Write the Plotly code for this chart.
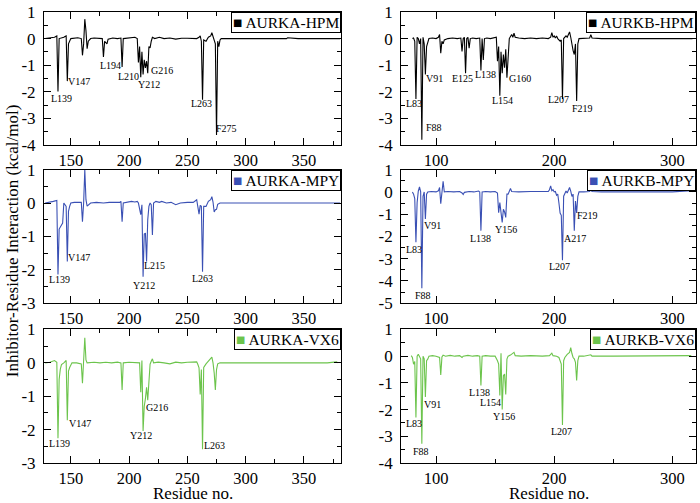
import plotly.graph_objects as go

# ---------------- data ----------------
aurka_hpm_res = [128, 132, 136, 138, 139, 140, 142, 144, 145, 146, 147, 148, 150, 153, 156, 159, 160, 161, 162, 163,
                 164, 165, 167, 170, 174, 177, 178, 179, 181, 182, 186, 190, 193, 194, 195, 198, 202, 205, 207, 208,
                 209, 210, 211, 212, 213, 214, 215, 216, 217, 218, 219, 220, 222, 226, 230, 235, 240, 245, 250, 255,
                 258, 260, 261, 262, 263, 264, 266, 268, 270, 271, 272, 273, 274, 275, 276, 277, 278, 279, 285, 295,
                 310, 320, 335, 336, 345, 360, 375, 381]
aurka_hpm_val = [0.0, 0.02, 0.05, 0.1, -1.99, 0.0, 0.02, 0.05, 0.08, 0.1, -1.6, -0.2, 0.0, 0.02, 0.03, 0.0, -0.63, -0.2, 0.73, 0.3,
                 -0.38, -0.1, 0.0, 0.02, 0.0, 0.0, -0.69, -0.1, -0.2, -0.02, 0.02, 0.0, 0.02, -1.07, 0.0, 0.02, 0.03, 0.05, 0.0, -0.9,
                 -0.3, -1.45, -0.5, -1.35, -0.8, -1.1, -0.85, -1.3, -0.3, -0.35, -0.1, 0.05, 0.0, 0.05, 0.0, 0.02, -0.02, 0.01, 0.01, 0.02,
                 0.0, 0.05, 0.1, -0.1, -2.3, -0.05, -0.1, 0.05, 0.1, 0.22, 0.05, -0.1, -0.2, -3.63, -0.1, -0.3, -0.05, 0.0, 0.0, 0.0,
                 0.0, 0.0, 0.0, 0.03, 0.0, 0.0, 0.0, 0.0]

aurkb_hpm_res = [80, 81, 82, 83, 84, 85, 86, 87, 88, 89, 90, 91, 92, 93, 94, 97, 100, 102, 103, 104,
                 105, 106, 107, 110, 114, 118, 121, 122, 123, 124, 125, 126, 127, 128, 129, 131, 134, 137, 138, 139,
                 140, 141, 143, 146, 149, 151, 152, 153, 154, 155, 156, 157, 158, 159, 160, 161, 162, 164, 165, 166,
                 167, 170, 175, 180, 185, 190, 195, 197, 198, 199, 200, 201, 202, 203, 205, 206, 207, 208, 209, 210,
                 211, 212, 213, 214, 215, 216, 217, 218, 219, 220, 221, 225, 230, 231, 232, 240, 260, 280, 300, 316, 317]
aurkb_hpm_val = [0.0, 0.02, -0.1, -2.27, 0.05, 0.0, -0.2, 0.0, -3.81, 0.05, -0.2, -1.35, -0.3, -0.15, 0.0, 0.02, 0.0, 0.05, 0.15, -0.55,
                 -0.1, -0.2, -0.05, 0.0, 0.02, 0.0, 0.02, -0.48, 0.0, 0.05, -1.3, 0.0, 0.05, -0.36, 0.0, 0.02, 0.0, 0.02, -1.2, 0.0,
                 -0.8, 0.0, 0.02, 0.0, 0.02, 0.05, -0.85, -0.3, -2.15, -0.5, -1.3, -0.6, -1.1, -0.4, -1.47, -0.4, 0.0, 0.15, 0.05, 0.2,
                 0.05, 0.02, 0.0, 0.02, 0.0, 0.02, 0.0, 0.05, 0.22, 0.05, 0.1, 0.02, 0.1, 0.0, -0.1, -0.05, -2.27, 0.0, 0.05, 0.1,
                 0.05, 0.15, 0.25, 0.05, -0.3, -0.45, -0.6, -0.2, -2.35, -0.2, 0.0, 0.0, 0.02, 0.15, 0.02, 0.0, 0.0, 0.0, 0.0, 0.02, 0.0]

aurka_mpy_res = [128, 132, 135, 138, 139, 140, 141, 142, 143, 144, 145, 146, 147, 148, 149, 150, 153, 156, 159, 160,
                 161, 162, 163, 164, 165, 167, 172, 178, 183, 188, 192, 193, 194, 195, 198, 202, 205, 207, 208, 209,
                 210, 211, 212, 213, 214, 215, 216, 217, 218, 219, 220, 221, 223, 226, 228, 232, 236, 240, 244, 250,
                 255, 258, 260, 261, 262, 263, 264, 266, 268, 270, 271, 272, 273, 274, 275, 276, 278, 290, 310, 311,
                 330, 350, 370, 381]
aurka_mpy_val = [0.0, 0.02, 0.05, 0.08, -2.14, -0.78, -0.72, -0.68, -0.6, 0.0, -0.05, -0.1, -1.75, -0.25, -0.1, 0.0, 0.02, 0.03, 0.02, -0.56,
                 0.0, 1.0, 0.1, -0.09, -0.05, 0.0, 0.02, 0.0, 0.02, 0.03, 0.02, 0.05, -0.56, 0.0, 0.02, 0.05, 0.03, 0.05, 0.0, -0.2,
                 -0.35, -0.05, -2.21, -0.93, -0.9, -1.75, -0.5, -0.1, 0.0, -0.05, -0.96, 0.0, 0.05, 0.02, 0.05, 0.0, 0.02, -0.05, 0.0, 0.02,
                 0.02, 0.1, -0.33, -0.07, -0.1, -2.06, -0.1, -0.1, 0.05, 0.1, 0.19, 0.03, -0.27, -0.2, -0.19, -0.04, 0.0, 0.0, 0.02, 0.0,
                 0.0, 0.0, 0.0, 0.0]

aurkb_mpy_res = [80, 81, 82, 83, 84, 85, 86, 87, 88, 89, 90, 91, 92, 93, 96, 100, 102, 103, 104, 105,
                 106, 107, 110, 115, 120, 122, 123, 124, 128, 132, 136, 137, 138, 139, 142, 146, 150, 152, 153, 154,
                 155, 156, 157, 158, 159, 160, 161, 162, 163, 164, 170, 180, 190, 195, 196, 197, 198, 199, 200, 201,
                 202, 203, 204, 205, 206, 207, 208, 209, 210, 211, 212, 213, 214, 215, 216, 217, 218, 219, 220, 221,
                 225, 230, 231, 232, 240, 260, 280, 300, 316, 317]
aurkb_mpy_val = [0.0, -0.1, -0.3, -2.26, -0.48, 0.04, 0.23, 0.0, -4.33, -0.2, 0.0, -1.22, -0.1, 0.0, 0.02, 0.0, 0.05, 0.2, -0.53, 0.19,
                 0.48, 0.0, 0.02, 0.0, 0.02, -0.05, -0.12, -0.02, 0.02, 0.0, 0.04, 0.0, -1.74, 0.0, 0.02, 0.0, 0.02, -0.05, -0.93, -0.48,
                 -0.9, -1.37, -0.78, -0.9, -1.15, -0.1, -0.1, 0.05, 0.15, 0.02, 0.0, 0.02, 0.0, 0.02, 0.1, 0.27, 0.05, 0.1, 0.0, 0.02,
                 -0.15, -0.1, -0.5, -0.95, -1.05, -3.07, -0.19, -0.1, 0.04, -0.05, 0.1, 0.2, 0.04, -0.2, -0.1, -1.74, -0.41, -0.95, -0.2, 0.0,
                 0.0, 0.02, 0.1, 0.02, 0.0, 0.0, 0.0, 0.0, 0.05, 0.0]

aurka_vx6_res = [128, 132, 136, 138, 139, 140, 141, 142, 144, 145, 146, 147, 148, 149, 150, 151, 155, 159, 160, 161,
                 162, 163, 164, 170, 175, 180, 185, 190, 193, 194, 195, 200, 205, 209, 210, 211, 212, 213, 214, 215,
                 216, 217, 218, 219, 220, 221, 225, 230, 235, 240, 245, 250, 255, 258, 259, 260, 261, 262, 263, 264,
                 266, 268, 269, 271, 272, 273, 274, 275, 276, 278, 290, 310, 311, 340, 370, 378, 379]
aurka_vx6_val = [0.0, 0.02, 0.07, 0.02, -2.26, -0.5, -0.19, -0.05, 0.0, 0.05, 0.07, -1.72, -0.25, -0.14, -0.05, 0.0, 0.0, -0.03, -0.61, 0.2,
                 0.75, 0.09, 0.0, 0.02, 0.0, 0.02, 0.0, 0.02, 0.0, -0.81, 0.0, 0.02, 0.0, 0.0, -0.88, 0.07, -2.04, -1.3, -1.07, -0.73,
                 -1.12, -0.5, -0.04, 0.05, 0.12, 0.0, 0.02, 0.0, -0.03, 0.02, 0.0, 0.02, 0.03, 0.03, -0.05, -0.15, -0.95, -0.2, -2.59, -0.14,
                 -0.03, 0.05, 0.1, 0.17, 0.0, -0.3, -0.81, -0.2, -0.03, 0.0, 0.0, 0.02, 0.0, 0.0, 0.0, 0.03, 0.0]

aurkb_vx6_res = [79, 80, 81, 82, 83, 84, 85, 86, 87, 88, 89, 90, 91, 92, 93, 94, 97, 100, 103, 104,
                 105, 106, 108, 112, 116, 120, 122, 123, 127, 131, 135, 137, 138, 139, 142, 146, 150, 152, 153, 154,
                 155, 156, 157, 158, 159, 160, 161, 163, 166, 167, 172, 180, 190, 196, 197, 198, 199, 202, 204, 205,
                 206, 207, 208, 209, 211, 213, 214, 215, 216, 217, 218, 219, 220, 221, 225, 231, 232, 250, 280, 300, 316]
aurkb_vx6_val = [0.02, -0.05, -0.3, -0.2, -2.3, 0.0, 0.07, 0.0, -0.1, -3.28, 0.0, -0.1, -1.53, -0.17, -0.11, 0.0, 0.02, 0.0, -0.05, -0.7,
                 -0.03, 0.04, 0.0, 0.03, 0.0, 0.02, -0.05, 0.0, 0.03, 0.0, 0.02, 0.0, -1.1, 0.0, 0.02, 0.0, 0.0, -0.17, -0.3, -1.47,
                 0.11, -2.0, -0.73, -0.67, -1.43, -0.11, 0.0, 0.04, 0.14, 0.02, 0.0, 0.02, 0.0, 0.02, 0.05, 0.11, 0.02, 0.0, -0.05, -0.23,
                 -0.3, -2.58, -0.17, -0.05, 0.07, 0.14, 0.32, 0.1, -0.05, -0.1, -0.23, -0.91, -0.17, 0.0, 0.0, 0.05, 0.0, 0.0, 0.0, 0.0, 0.02]

series_names = ["AURKA-HPM", "AURKB-HPM", "AURKA-MPY", "AURKB-MPY", "AURKA-VX6", "AURKB-VX6"]
series_res = [aurka_hpm_res, aurkb_hpm_res, aurka_mpy_res, aurkb_mpy_res, aurka_vx6_res, aurkb_vx6_res]
series_val = [aurka_hpm_val, aurkb_hpm_val, aurka_mpy_val, aurkb_mpy_val, aurka_vx6_val, aurkb_vx6_val]

# residue labels: (text, x, y) in data coordinates of each panel
residue_labels = [
    [("L139", 142.1, -2.25), ("V147", 157.3, -1.62), ("L194", 184.1, -1.01), ("L210", 199.3, -1.44),
     ("G216", 227.9, -1.19), ("Y212", 217.3, -1.72), ("L263", 262.1, -2.46), ("F275", 283.6, -3.38)],
    [("L83", 81.2, -2.46), ("V91", 98.6, -1.49), ("F88", 98.6, -3.35), ("E125", 122.5, -1.49),
     ("L138", 142.1, -1.35), ("G160", 170.8, -1.49), ("L154", 156.2, -2.33), ("L207", 203.9, -2.31),
     ("F219", 224.2, -2.62)],
    [("L139", 140.1, -2.28), ("V147", 157.0, -1.64), ("L215", 222.1, -1.88), ("Y212", 212.7, -2.48),
     ("L263", 262.7, -2.26)],
    [("L83", 81.2, -2.59), ("V91", 96.6, -1.49), ("F88", 88.8, -4.66), ("L138", 137.4, -2.08),
     ("Y156", 159.5, -1.67), ("L207", 204.8, -3.34), ("A217", 218.0, -2.08), ("F219", 227.8, -1.07)],
    [("L139", 139.9, -2.43), ("V147", 157.9, -1.81), ("G216", 224.1, -1.34), ("Y212", 209.9, -2.19),
     ("L263", 273.6, -2.48)],
    [("L83", 81.2, -2.52), ("V91", 97.2, -1.8), ("F88", 87.4, -3.57), ("L138", 137.1, -1.35),
     ("L154", 146.3, -1.72), ("Y156", 157.6, -2.27), ("L207", 206.2, -2.83)],
]

y_ranges = [(-4, 1), (-4, 1), (-3, 1), (-5, 1), (-3, 1), (-4, 1)]
x_range_a = [127, 382]
x_range_b = [70.5, 320]

# ---------------- styles ----------------
colors = ["#000000", "#000000", "#3a50b4", "#3a50b4", "#6cc44c", "#6cc44c"]
FONT = "Liberation Serif"

x_domains = [[0.0, 0.4559], [0.5478, 1.0]]
y_domains = [[0.7053, 1.0], [0.3544, 0.6504], [0.0, 0.2961]]

fig = go.Figure()
layout = dict(
    width=700, height=503,
    margin=dict(l=44, r=3, t=7, b=40),
    paper_bgcolor="white", plot_bgcolor="white",
    showlegend=False,
    font=dict(family=FONT, color="black"),
)
annotations = []

for i in range(6):
    row, col = divmod(i, 2)
    n = i + 1
    xa = "x" if n == 1 else f"x{n}"
    ya = "y" if n == 1 else f"y{n}"
    fig.add_trace(go.Scatter(
        x=series_res[i], y=series_val[i], mode="lines",
        line=dict(color=colors[i], width=1.1),
        xaxis=xa, yaxis=ya, name=series_names[i],
    ))
    common = dict(
        showline=True, linecolor="black", linewidth=1, mirror="ticks",
        ticks="inside", ticklen=7, tickwidth=1, tickcolor="black",
        showgrid=False, zeroline=False,
        tickfont=dict(family=FONT, size=17, color="black"),
    )
    xcommon = dict(common, tickfont=dict(family=FONT, size=16.5, color="black"), ticklabelstandoff=0, anchor=ya)
    if col == 0:
        xaxis = dict(xcommon, domain=x_domains[0], range=x_range_a, tick0=0, dtick=50,
                     minor=dict(ticks="inside", ticklen=4, dtick=25, tick0=0, tickcolor="black", showgrid=False))
    else:
        xaxis = dict(xcommon, domain=x_domains[1], range=x_range_b, tick0=0, dtick=100,
                     minor=dict(ticks="inside", ticklen=4, dtick=50, tick0=0, tickcolor="black", showgrid=False))
    lo, hi = y_ranges[i]
    tv = list(range(lo, hi + 1))
    yaxis = dict(common, domain=y_domains[row], range=[lo, hi],
                 tickvals=tv, ticktext=[str(v) for v in tv],
                 minor=dict(ticks="inside", ticklen=4, dtick=0.5, tick0=0, tickcolor="black", showgrid=False),
                 anchor=xa, ticklabelstandoff=4)
    layout["xaxis" if n == 1 else f"xaxis{n}"] = xaxis
    layout["yaxis" if n == 1 else f"yaxis{n}"] = yaxis

    # legend box
    annotations.append(dict(
        xref=f"{xa} domain", yref=f"{ya} domain", x=1, y=1, xanchor="right", yanchor="top",
        text=f'<span style="color:{colors[i]}">■</span> {series_names[i]}',
        showarrow=False, bordercolor="black", borderwidth=1, borderpad=1, bgcolor="white",
        font=dict(family=FONT, size=15.5, color="black"),
    ))
    for txt, lx, ly in residue_labels[i]:
        annotations.append(dict(
            xref=xa, yref=ya, x=lx, y=ly, text=txt, showarrow=False,
            font=dict(family=FONT, size=10, color="black"),
            xanchor="center", yanchor="middle",
        ))

annotations.append(dict(
    xref="paper", yref="paper", x=-0.049, y=0.492, text="Inhibitor-Residue Interaction (kcal/mol)",
    textangle=-90, showarrow=False, font=dict(family=FONT, size=17, color="black"),
    xanchor="center", yanchor="middle",
))
for xc in (0.228, 0.775):
    annotations.append(dict(
        xref="paper", yref="paper", x=xc, y=-0.0685, text="Residue no.", showarrow=False,
        font=dict(family=FONT, size=17, color="black"), xanchor="center", yanchor="middle",
    ))

layout["annotations"] = annotations
fig.update_layout(**layout)
fig.write_html("out.html", config={"displayModeBar": False},
               post_script="document.body.style.margin='0';")
